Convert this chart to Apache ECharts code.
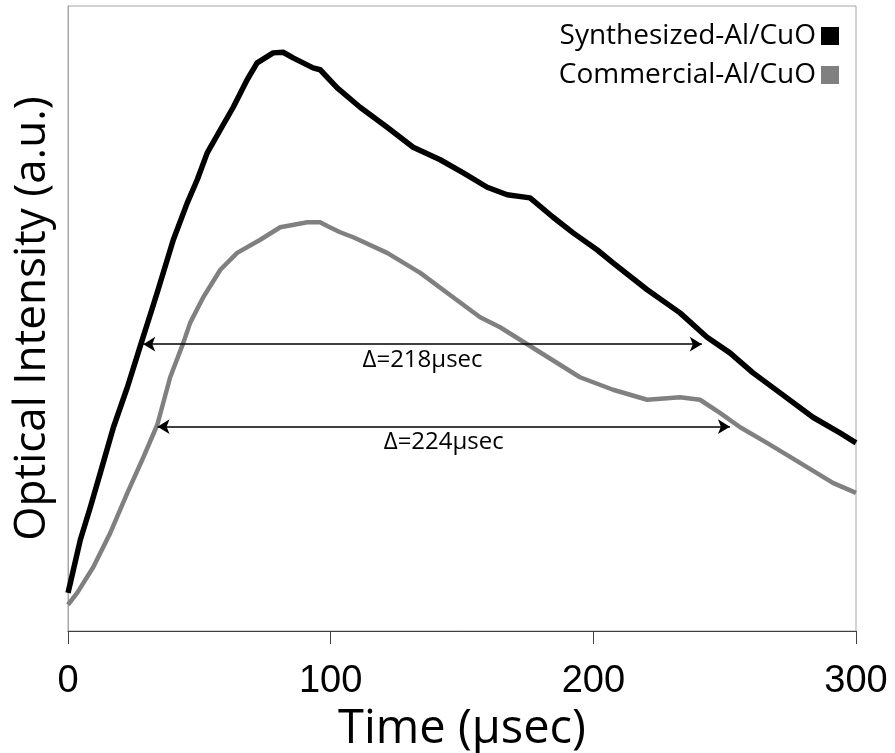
<!DOCTYPE html>
<html>
<head>
<meta charset="utf-8">
<script src="https://cdn.jsdelivr.net/npm/echarts@6/dist/echarts.min.js"></script>
<style>
html,body{margin:0;padding:0;background:#fff;}
#chart{width:895px;height:753px;}
</style>
</head>
<body>
<div id="chart"></div>
<script>
// Synthesized-Al/CuO (black)
var timeSynth = [0, 0.9, 4.7, 8.5, 12.3, 17.3, 22.6, 27.9, 31.3, 34.0, 40.1, 45.4, 49.2, 53.0, 58.0, 62.9, 68.2, 72.0, 78.1, 81.9, 85.7, 93.3, 96.0, 102.5, 111.2, 121.5, 131.4, 141.7, 150.5, 159.6, 167.2, 175.9, 184.7, 192.3, 201.4, 207.5, 220.5, 233.0, 243.3, 252.0, 260.8, 271.1, 283.6, 293.9, 300];
var valSynth = [6.1, 7.7, 14.6, 19.8, 25.3, 32.6, 39.0, 46.1, 50.6, 54.2, 62.6, 68.5, 72.2, 76.5, 80.2, 83.8, 88.2, 90.9, 92.5, 92.6, 91.7, 90.1, 89.8, 86.9, 83.8, 80.6, 77.4, 75.4, 73.3, 71.0, 69.8, 69.3, 66.2, 63.7, 61.0, 58.9, 54.6, 50.9, 47.0, 44.5, 41.3, 38.1, 34.2, 31.7, 30.1];
// Commercial-Al/CuO (grey)
var timeComm = [0, 3.5, 9.6, 16.1, 22.6, 28.7, 34.0, 38.9, 43.9, 46.5, 51.5, 58.0, 64.4, 73.2, 80.8, 91.1, 96.0, 98.7, 103.6, 108.6, 121.5, 134.1, 146.6, 156.9, 164.5, 179.7, 194.9, 207.5, 220.5, 233.0, 240.6, 248.2, 255.9, 266.1, 278.7, 291.2, 300];
var valComm = [4.2, 6.1, 10.2, 15.7, 22.1, 27.8, 33.0, 40.6, 46.1, 49.3, 53.4, 57.8, 60.5, 62.6, 64.6, 65.4, 65.4, 64.8, 63.8, 63.0, 60.5, 57.3, 53.4, 50.2, 48.6, 44.6, 40.6, 38.6, 37.0, 37.4, 37.0, 34.9, 32.6, 30.1, 26.9, 23.7, 22.1];
var seriesNames = ['Synthesized-Al/CuO', 'Commercial-Al/CuO'];
var xTicks = [0, 100, 200, 300];
// duration arrows: [start time, end time, level, label]
var arrowSynth = [28.65, 241.3, 45.9, 'Δ=218μsec'];
var arrowComm = [34.1, 252.0, 32.7, 'Δ=224μsec'];

function pairs(t, v) { return t.map(function (x, i) { return [x, v[i]]; }); }
function arrowLine(a) {
  return [{ coord: [a[0], a[2]], label: { formatter: a[3] } }, { coord: [a[1], a[2]] }];
}

var chart = echarts.init(document.getElementById('chart'));
chart.setOption({
  animation: false,
  grid: { left: 68, right: 39, top: 6, bottom: 122, outerBoundsMode: 'none', containLabel: false, show: true, borderColor: '#a6a6a6', borderWidth: 1, backgroundColor: 'transparent' },
  legend: {
    orient: 'vertical', right: 51, top: 17, align: 'right', icon: 'rect',
    itemWidth: 18, itemHeight: 18, itemGap: 11,
    textStyle: { fontFamily: 'Open Sans', fontSize: 28, color: '#000' },
    data: seriesNames
  },
  xAxis: {
    type: 'value', min: xTicks[0], max: xTicks[xTicks.length - 1], interval: 100,
    name: 'Time (μsec)', nameLocation: 'middle', nameGap: 70,
    nameTextStyle: { fontFamily: 'Open Sans', fontSize: 47, color: '#000' },
    axisLine: { show: true, lineStyle: { color: '#404040', width: 1 } },
    axisTick: { show: true, length: 13, inside: false, lineStyle: { color: '#404040' } },
    axisLabel: { fontFamily: 'Liberation Sans', fontSize: 38, color: '#000', margin: 32 },
    splitLine: { show: false }
  },
  yAxis: {
    type: 'value', min: 0, max: 100,
    name: 'Optical Intensity (a.u.)', nameLocation: 'middle', nameGap: 14,
    nameTextStyle: { fontFamily: 'Open Sans', fontSize: 44, color: '#000' },
    axisLine: { show: true, lineStyle: { color: '#a6a6a6', width: 1 } },
    axisTick: { show: false }, axisLabel: { show: false }, splitLine: { show: false }
  },
  series: [
    {
      name: seriesNames[0], type: 'line', data: pairs(timeSynth, valSynth),
      showSymbol: false, symbol: 'none', smooth: false,
      itemStyle: { color: '#000' }, lineStyle: { color: '#000', width: 5.5, join: 'round' },
      markLine: {
        silent: true, symbol: ['arrow', 'arrow'], symbolSize: [11, 12],
        lineStyle: { color: '#000', width: 1.5, type: 'solid' },
        label: { show: true, position: 'insideMiddleBottom', distance: 4, fontFamily: 'Open Sans', fontSize: 24, color: '#000' },
        data: [arrowLine(arrowSynth)]
      }
    },
    {
      name: seriesNames[1], type: 'line', data: pairs(timeComm, valComm),
      showSymbol: false, symbol: 'none', smooth: false,
      itemStyle: { color: '#808080' }, lineStyle: { color: '#808080', width: 4.5, join: 'round' },
      markLine: {
        silent: true, symbol: ['arrow', 'arrow'], symbolSize: [11, 12],
        lineStyle: { color: '#000', width: 1.5, type: 'solid' },
        label: { show: true, position: 'insideMiddleBottom', distance: 4, fontFamily: 'Open Sans', fontSize: 24, color: '#000' },
        data: [arrowLine(arrowComm)]
      }
    }
  ]
});
</script>
</body>
</html>
